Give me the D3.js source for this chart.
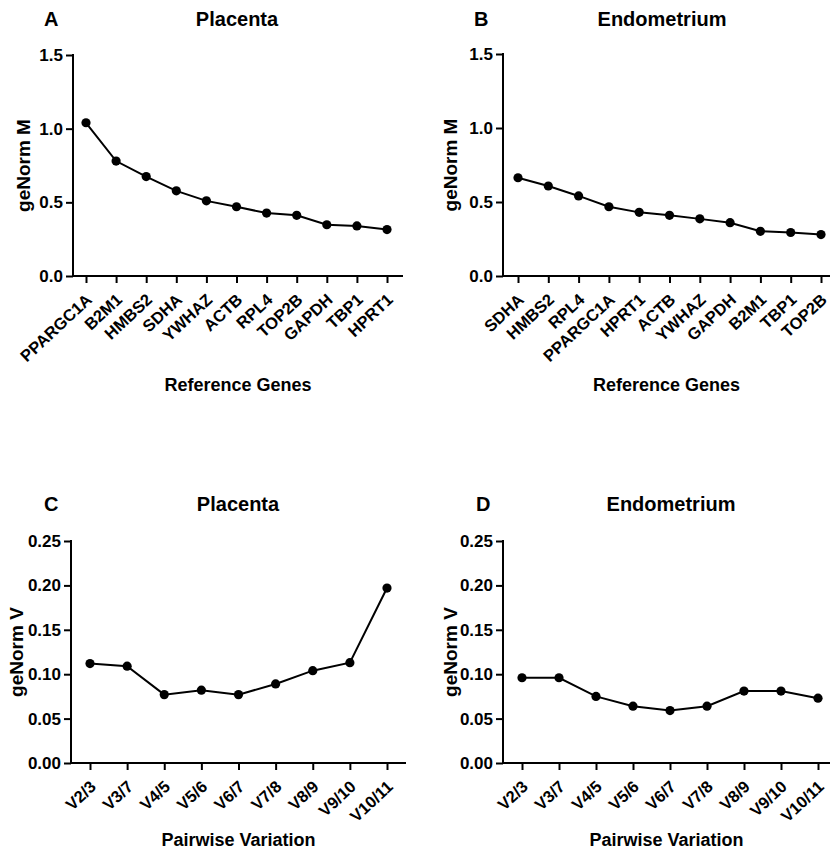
<!DOCTYPE html>
<html>
<head>
<meta charset="utf-8">
<script src="https://cdn.jsdelivr.net/npm/d3@7"></script>
<style>
body { margin: 0; background: #fff; }
text { font-family: "Liberation Sans", Arial, sans-serif; font-weight: bold; fill: #000; }
</style>
</head>
<body>
<div id="chart"></div>
<script>
// data
var genesPlacenta = ["PPARGC1A","B2M1","HMBS2","SDHA","YWHAZ","ACTB","RPL4","TOP2B","GAPDH","TBP1","HPRT1"];
var mPlacenta = [1.04, 0.78, 0.675, 0.578, 0.51, 0.47, 0.427, 0.412, 0.348, 0.34, 0.315];
var genesEndometrium = ["SDHA","HMBS2","RPL4","PPARGC1A","HPRT1","ACTB","YWHAZ","GAPDH","B2M1","TBP1","TOP2B"];
var mEndometrium = [0.664, 0.608, 0.541, 0.468, 0.43, 0.41, 0.386, 0.36, 0.302, 0.294, 0.28];
var pairs = ["V2/3","V3/7","V4/5","V5/6","V6/7","V7/8","V8/9","V9/10","V10/11"];
var vPlacenta = [0.112, 0.109, 0.077, 0.082, 0.077, 0.089, 0.104, 0.113, 0.197];
var vEndometrium = [0.096, 0.096, 0.075, 0.064, 0.059, 0.064, 0.081, 0.081, 0.073];
var mTicks = [0, 0.5, 1.0, 1.5];
var vTicks = [0, 0.05, 0.10, 0.15, 0.20, 0.25];

var svg = d3.select("#chart")
    .append("svg")
    .attr("width", 830)
    .attr("height", 854);

function drawPanel(p){
    var g = svg.append("g").attr("class","panel");

    var x = d3.scalePoint()
        .domain(p.cats)
        .range([p.firstTick, p.lastTick]);
    var y = d3.scaleLinear()
        .domain([0, p.ymax])
        .range([p.y0, p.y1]);

    // titles
    g.append("text")
        .attr("x", p.letterX).attr("y", p.titleY)
        .style("font-size","20px")
        .text(p.letter);
    g.append("text")
        .attr("x", p.titleX).attr("y", p.titleY)
        .attr("text-anchor","middle")
        .style("font-size","20px")
        .text(p.title);

    // y axis
    var yAxis = d3.axisLeft(y)
        .tickValues(p.yticks)
        .tickFormat(d3.format(p.fmt))
        .tickSize(7)
        .tickPadding(3);
    var ya = g.append("g")
        .attr("transform","translate(" + p.x0 + ",0)")
        .call(yAxis);
    ya.select(".domain").remove();
    ya.selectAll("line").attr("stroke","#000").attr("stroke-width",2);
    ya.selectAll("text").style("font-size","17px").style("font-family",null);
    g.append("line")
        .attr("x1", p.x0).attr("x2", p.x0)
        .attr("y1", p.y1 - 1).attr("y2", p.y0 + 1)
        .attr("stroke","#000").attr("stroke-width",2);

    // x axis
    var xAxis = d3.axisBottom(x).tickSize(7).tickFormat("");
    var xa = g.append("g")
        .attr("transform","translate(0," + p.y0 + ")")
        .call(xAxis);
    xa.select(".domain").remove();
    xa.selectAll("line").attr("stroke","#000").attr("stroke-width",2);
    g.append("line")
        .attr("x1", p.x0 - 1).attr("x2", p.x1)
        .attr("y1", p.y0).attr("y2", p.y0)
        .attr("stroke","#000").attr("stroke-width",2);

    g.selectAll(".xlab")
        .data(p.cats)
        .enter().append("text")
        .attr("class","xlab")
        .attr("text-anchor","end")
        .style("font-size","16.5px")
        .attr("transform", function(d){
            return "translate(" + (x(d) + p.labDx) + "," + (p.y0 + p.labDy) + ") rotate(-43)";
        })
        .text(function(d){ return d; });

    // axis titles
    g.append("text")
        .attr("x", (p.x0 + p.x1) / 2).attr("y", p.xtitleY)
        .attr("text-anchor","middle")
        .style("font-size","18px")
        .text(p.xtitle);
    g.append("text")
        .attr("transform","translate(" + p.ytitleX + "," + ((p.y0 + p.y1) / 2) + ") rotate(-90)")
        .attr("text-anchor","middle")
        .style("font-size","19px")
        .text(p.ytitle);

    // series
    var pts = p.cats.map(function(c, i){ return {c: c, v: p.vals[i]}; });
    var line = d3.line()
        .x(function(d){ return x(d.c); })
        .y(function(d){ return y(d.v); });
    g.append("path")
        .attr("d", line(pts))
        .attr("fill","none")
        .attr("stroke","#000")
        .attr("stroke-width",2);
    g.selectAll(".dot")
        .data(pts)
        .enter().append("circle")
        .attr("class","dot")
        .attr("cx", function(d){ return x(d.c); })
        .attr("cy", function(d){ return y(d.v); })
        .attr("r", 4.6)
        .attr("fill","#000");
}

drawPanel({
    cats: genesPlacenta, vals: mPlacenta, ymax: 1.5, yticks: mTicks, fmt: ".1f",
    x0: 73, x1: 403, firstTick: 86, lastTick: 387, y0: 276, y1: 55,
    letter: "A", letterX: 44, title: "Placenta", titleX: 237, titleY: 26,
    labDx: 7, labDy: 25, xtitle: "Reference Genes", xtitleY: 391,
    ytitle: "geNorm M", ytitleX: 30
});
drawPanel({
    cats: genesEndometrium, vals: mEndometrium, ymax: 1.5, yticks: mTicks, fmt: ".1f",
    x0: 503, x1: 830, firstTick: 518, lastTick: 821, y0: 276, y1: 54,
    letter: "B", letterX: 474, title: "Endometrium", titleX: 662, titleY: 26,
    labDx: 7, labDy: 25, xtitle: "Reference Genes", xtitleY: 391,
    ytitle: "geNorm M", ytitleX: 457
});
drawPanel({
    cats: pairs, vals: vPlacenta, ymax: 0.25, yticks: vTicks, fmt: ".2f",
    x0: 71, x1: 406, firstTick: 90, lastTick: 387, y0: 763, y1: 541,
    letter: "C", letterX: 44, title: "Placenta", titleX: 238, titleY: 511,
    labDx: 7, labDy: 25, xtitle: "Pairwise Variation", xtitleY: 846,
    ytitle: "geNorm V", ytitleX: 23
});
drawPanel({
    cats: pairs, vals: vEndometrium, ymax: 0.25, yticks: vTicks, fmt: ".2f",
    x0: 503, x1: 830, firstTick: 522, lastTick: 818, y0: 763, y1: 541,
    letter: "D", letterX: 476, title: "Endometrium", titleX: 671, titleY: 511,
    labDx: 7, labDy: 25, xtitle: "Pairwise Variation", xtitleY: 846,
    ytitle: "geNorm V", ytitleX: 457
});
</script>
</body>
</html>
